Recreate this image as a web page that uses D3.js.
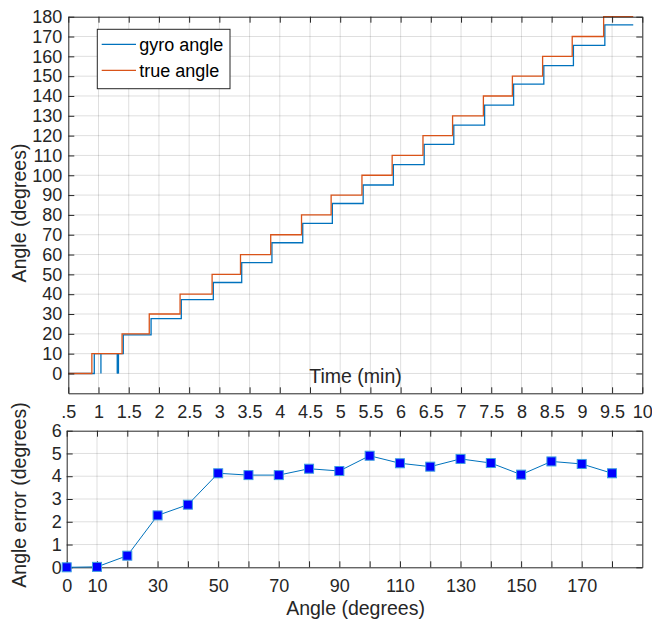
<!DOCTYPE html>
<html>
<head>
<meta charset="utf-8">
<script src="https://cdn.jsdelivr.net/npm/d3@7"></script>
<style>
  body { margin: 0; background: #fff; }
  svg { display: block; font-family: "Liberation Sans", Arial, sans-serif; }
  .tick line { stroke: #262626; }
  .tick text { fill: #262626; }
</style>
</head>
<body>
<svg id="chart" width="652" height="621"></svg>
<script>
// top panel: true angle steps (time in minutes)
const trueTimes = [0.5, 0.89, 1.39, 1.84, 2.35, 2.88, 3.35, 3.85, 4.36, 4.85, 5.36, 5.86, 6.37, 6.86, 7.37, 7.85, 8.35, 8.84, 9.36];
const trueAngles = [0, 10, 20, 30, 40, 50, 60, 70, 80, 90, 100, 110, 120, 130, 140, 150, 160, 170, 180];
const endTime = 9.85;

// gyro reading steps
const gyroTimes = [0.5, 0.93, 1.41, 1.87, 2.37, 2.9, 3.37, 3.87, 4.38, 4.87, 5.38, 5.88, 6.39, 6.88, 7.39, 7.87, 8.37, 8.86, 9.38];
const gyroAngles = [0, 10, 19.5, 27.7, 37.25, 45.9, 55.95, 65.95, 75.7, 85.75, 95.1, 105.4, 115.6, 125.25, 135.4, 145.95, 155.35, 165.5, 175.9];
// short drop-outs of the gyro to zero
const gyroDropTimes = [1.04, 1.31, 1.32, 1.33];

const timeTicks = [0.5, 1, 1.5, 2, 2.5, 3, 3.5, 4, 4.5, 5, 5.5, 6, 6.5, 7, 7.5, 8, 8.5, 9, 9.5, 10];
const timeTickLabels = [".5", "1", "1.5", "2", "2.5", "3", "3.5", "4", "4.5", "5", "5.5", "6", "6.5", "7", "7.5", "8", "8.5", "9", "9.5", "10"];
const angleTicks = [0, 10, 20, 30, 40, 50, 60, 70, 80, 90, 100, 110, 120, 130, 140, 150, 160, 170, 180];

// bottom panel: error per angle
const errAngles = [0, 10, 20, 30, 40, 50, 60, 70, 80, 90, 100, 110, 120, 130, 140, 150, 160, 170, 180];
const errValues = [0, 0.02, 0.51, 2.28, 2.75, 4.13, 4.05, 4.05, 4.33, 4.23, 4.9, 4.57, 4.42, 4.76, 4.58, 4.07, 4.65, 4.54, 4.13];
const errXTicks = [0, 10, 20, 30, 40, 50, 60, 70, 80, 90, 100, 110, 120, 130, 140, 150, 160, 170, 180];
const errXTickLabels = ["0", "10", "", "30", "", "50", "", "70", "", "90", "", "110", "", "130", "", "150", "", "170", ""];
const errYTicks = [0, 1, 2, 3, 4, 5, 6];

const blue = "#0072BD";
const orange = "#D95319";
const axisColor = "#262626";
const tickFont = "18px";
const labelFont = "19.5px";

const svg = d3.select("#chart");

// ---------- top panel ----------
const box1 = { left: 68.3, right: 642.3, top: 16.7, bottom: 393.3 };
const x1 = d3.scaleLinear().domain([0.5, 10]).range([box1.left, box1.right]);
const y1 = d3.scaleLinear().domain([-10, 180]).range([box1.bottom, box1.top]);

const g1 = svg.append("g");

// grid
g1.append("g")
  .selectAll("line")
  .data(timeTicks.slice(1, -1))
  .enter()
  .append("line")
  .attr("x1", (d) => x1(d))
  .attr("x2", (d) => x1(d))
  .attr("y1", box1.top)
  .attr("y2", box1.bottom)
  .attr("stroke", axisColor)
  .attr("stroke-opacity", 0.15);
g1.append("g")
  .selectAll("line")
  .data(angleTicks.slice(0, -1))
  .enter()
  .append("line")
  .attr("x1", box1.left)
  .attr("x2", box1.right)
  .attr("y1", (d) => y1(d))
  .attr("y2", (d) => y1(d))
  .attr("stroke", axisColor)
  .attr("stroke-opacity", 0.15);

// gyro line
const gyroPts = gyroTimes.map((t, i) => [t, gyroAngles[i]]);
gyroPts.push([endTime, gyroAngles[gyroAngles.length - 1]]);
const stepLine = d3
  .line()
  .x((d) => x1(d[0]))
  .y((d) => y1(d[1]))
  .curve(d3.curveStepAfter);

g1.append("path")
  .attr("d", stepLine(gyroPts))
  .attr("fill", "none")
  .attr("stroke", blue)
  .attr("stroke-width", 1.3);

g1.selectAll("line.drop")
  .data(gyroDropTimes)
  .enter()
  .append("line")
  .attr("class", "drop")
  .attr("x1", (d) => x1(d))
  .attr("x2", (d) => x1(d))
  .attr("y1", y1(10))
  .attr("y2", y1(0))
  .attr("stroke", blue)
  .attr("stroke-width", 1.3);

// true line
const truePts = trueTimes.map((t, i) => [t, trueAngles[i]]);
truePts.push([endTime, trueAngles[trueAngles.length - 1]]);
g1.append("path")
  .attr("d", stepLine(truePts))
  .attr("fill", "none")
  .attr("stroke", orange)
  .attr("stroke-width", 1.3);

// axes
const xAxis1 = d3
  .axisBottom(x1)
  .tickValues(timeTicks)
  .tickFormat((d, i) => timeTickLabels[i])
  .tickSizeInner(-6)
  .tickSizeOuter(0)
  .tickPadding(11.5);
const xAxisTop1 = d3.axisTop(x1).tickValues(timeTicks).tickFormat("").tickSizeInner(-6).tickSizeOuter(0);
const yAxis1 = d3.axisLeft(y1).tickValues(angleTicks).tickFormat(d3.format("d")).tickSizeInner(-6).tickSizeOuter(0).tickPadding(6);
const yAxisRight1 = d3.axisRight(y1).tickValues(angleTicks).tickFormat("").tickSizeInner(-6).tickSizeOuter(0);

function styleAxis(sel) {
  sel.select(".domain").attr("stroke", axisColor);
  sel.selectAll("text").style("font-size", tickFont).attr("fill", axisColor);
}

g1.append("g").attr("transform", `translate(0, ${box1.bottom})`).call(xAxis1).call(styleAxis);
g1.append("g").attr("transform", `translate(0, ${box1.top})`).call(xAxisTop1).call(styleAxis);
g1.append("g").attr("transform", `translate(${box1.left}, 0)`).call(yAxis1).call(styleAxis);
g1.append("g").attr("transform", `translate(${box1.right}, 0)`).call(yAxisRight1).call(styleAxis);

g1.append("text")
  .attr("x", 355.5)
  .attr("y", 383)
  .attr("text-anchor", "middle")
  .style("font-size", labelFont)
  .attr("fill", axisColor)
  .text("Time (min)");

g1.append("text")
  .attr("transform", `translate(26, ${(box1.top + box1.bottom) / 2 + 8}) rotate(-90)`)
  .attr("text-anchor", "middle")
  .style("font-size", labelFont)
  .attr("fill", axisColor)
  .text("Angle (degrees)");

// legend
const legend = g1.append("g").attr("transform", "translate(97.3, 29.3)");
legend
  .append("rect")
  .attr("width", 132.7)
  .attr("height", 59.4)
  .attr("fill", "#fff")
  .attr("stroke", axisColor)
  .attr("stroke-width", 1);
[
  ["gyro angle", blue],
  ["true angle", orange],
].forEach((item, i) => {
  const yy = 15 + i * 26;
  legend
    .append("line")
    .attr("x1", 4.4)
    .attr("x2", 38.7)
    .attr("y1", yy)
    .attr("y2", yy)
    .attr("stroke", item[1])
    .attr("stroke-width", 1.3);
  legend
    .append("text")
    .attr("x", 42)
    .attr("y", yy + 6.5)
    .style("font-size", "18px")
    .attr("fill", "#000")
    .text(item[0]);
});

// ---------- bottom panel ----------
const box2 = { left: 66.7, right: 642.3, top: 430.7, bottom: 567.3 };
const x2 = d3.scaleLinear().domain([0, 190]).range([box2.left, box2.right]);
const y2 = d3.scaleLinear().domain([0, 6]).range([box2.bottom, box2.top]);

const g2 = svg.append("g");

g2.append("g")
  .selectAll("line")
  .data(errXTicks.slice(1))
  .enter()
  .append("line")
  .attr("x1", (d) => x2(d))
  .attr("x2", (d) => x2(d))
  .attr("y1", box2.top)
  .attr("y2", box2.bottom)
  .attr("stroke", axisColor)
  .attr("stroke-opacity", 0.15);
g2.append("g")
  .selectAll("line")
  .data(errYTicks.slice(1, -1))
  .enter()
  .append("line")
  .attr("x1", box2.left)
  .attr("x2", box2.right)
  .attr("y1", (d) => y2(d))
  .attr("y2", (d) => y2(d))
  .attr("stroke", axisColor)
  .attr("stroke-opacity", 0.15);

const xAxis2 = d3
  .axisBottom(x2)
  .tickValues(errXTicks)
  .tickFormat((d, i) => errXTickLabels[i])
  .tickSizeInner(-6)
  .tickSizeOuter(0)
  .tickPadding(12);
const xAxisTop2 = d3.axisTop(x2).tickValues(errXTicks).tickFormat("").tickSizeInner(-6).tickSizeOuter(0);
const yAxis2 = d3.axisLeft(y2).tickValues(errYTicks).tickFormat(d3.format("d")).tickSizeInner(-6).tickSizeOuter(0).tickPadding(5);
const yAxisRight2 = d3.axisRight(y2).tickValues(errYTicks).tickFormat("").tickSizeInner(-6).tickSizeOuter(0);

g2.append("g").attr("transform", `translate(0, ${box2.bottom})`).call(xAxis2).call(styleAxis);
g2.append("g").attr("transform", `translate(0, ${box2.top})`).call(xAxisTop2).call(styleAxis);
g2.append("g").attr("transform", `translate(${box2.left}, 0)`).call(yAxis2).call(styleAxis);
g2.append("g").attr("transform", `translate(${box2.right}, 0)`).call(yAxisRight2).call(styleAxis);

const errLine = d3
  .line()
  .x((d, i) => x2(errAngles[i]))
  .y((d) => y2(d));

g2.append("path")
  .attr("d", errLine(errValues))
  .attr("fill", "none")
  .attr("stroke", blue)
  .attr("stroke-width", 1);

g2.selectAll("rect.mk")
  .data(errValues)
  .enter()
  .append("rect")
  .attr("class", "mk")
  .attr("x", (d, i) => x2(errAngles[i]) - 4.5)
  .attr("y", (d) => y2(d) - 4.5)
  .attr("width", 9)
  .attr("height", 9)
  .attr("fill", "#0000ff")
  .attr("stroke", "#3d9ee0")
  .attr("stroke-width", 1);

g2.append("text")
  .attr("x", 355.5)
  .attr("y", 615)
  .attr("text-anchor", "middle")
  .style("font-size", labelFont)
  .attr("fill", axisColor)
  .text("Angle (degrees)");

g2.append("text")
  .attr("transform", `translate(26, ${(box2.top + box2.bottom) / 2 - 4}) rotate(-90)`)
  .attr("text-anchor", "middle")
  .style("font-size", labelFont)
  .attr("fill", axisColor)
  .text("Angle error (degrees)");
</script>
</body>
</html>
